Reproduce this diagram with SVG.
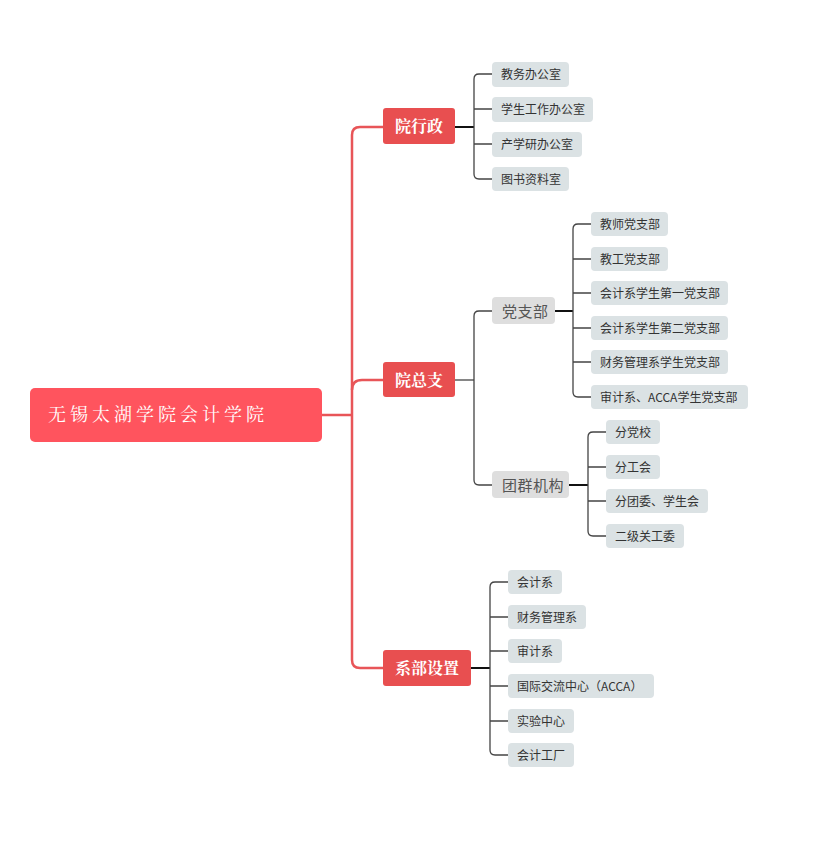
<svg xmlns="http://www.w3.org/2000/svg" width="823" height="845" viewBox="0 0 823 845">
<style>
.root{fill:#FF545E}
.l1{fill:#E84F50}
.l2{fill:#DEDEDE}
.leaf{fill:#DBE2E4}
.t-root{font-family:"Noto Serif CJK SC","Noto Sans CJK SC",serif;font-size:18px;fill:#fff;letter-spacing:4px}
.t1{font-family:"Noto Serif CJK SC","Noto Sans CJK SC",serif;font-size:16px;font-weight:bold;fill:#fff;text-anchor:middle}
.t2{font-family:"Noto Sans CJK SC",sans-serif;font-size:15px;fill:#555;letter-spacing:0.5px}
.t3{font-family:"Noto Sans CJK SC",sans-serif;font-size:12px;fill:#333}
.red{fill:none;stroke:#E85558;stroke-width:2.5}
.stem{fill:none;stroke:#111;stroke-width:2}
.br{fill:none;stroke:#444;stroke-width:1.3}
</style>
<rect width="823" height="845" fill="#fff"/>
<g id="connectors">
<path class="red" d="M322,415 H352"/>
<path class="red" d="M383,127 H360 Q352,127 352,135 V660 Q352,668 360,668 H383"/>
<path class="red" d="M352,390 Q352,380 362,380 H383"/>
<path class="stem" d="M455,127 H474"/>
<path class="br" d="M492,74 H479 Q474,74 474,79 V174 Q474,179 479,179 H492 M474,109 H492 M474,144 H492"/>
<path class="br" d="M455,380 H474"/>
<path class="br" d="M492,311 H479 Q474,311 474,316 V480 Q474,485 479,485 H492"/>
<path class="stem" d="M555,311 H573"/>
<path class="br" d="M591,224 H578 Q573,224 573,229 V392 Q573,397 578,397 H591 M573,259 H591 M573,293 H591 M573,328 H591 M573,362 H591"/>
<path class="stem" d="M569,485 H588"/>
<path class="br" d="M606,432 H593 Q588,432 588,437 V531 Q588,536 593,536 H606 M588,467 H606 M588,501 H606"/>
<path class="stem" d="M471,668 H490"/>
<path class="br" d="M508,582 H495 Q490,582 490,587 V750 Q490,755 495,755 H508 M490,617 H508 M490,651 H508 M490,686 H508 M490,721 H508"/>
</g>
<g id="root"><rect class="root" x="30" y="388" width="292" height="54" rx="5"/><text class="t-root" x="48" y="421">无锡太湖学院会计学院</text></g>
<g id="n-xingzheng"><rect class="l1" x="383" y="108" width="72" height="36" rx="3"/><text class="t1" x="419" y="132">院行政</text></g>
<g id="n-zongzhi"><rect class="l1" x="383" y="362" width="72" height="35" rx="3"/><text class="t1" x="419" y="385.5">院总支</text></g>
<g id="n-xibu"><rect class="l1" x="383" y="650" width="88" height="36" rx="3"/><text class="t1" x="427" y="674">系部设置</text></g>
<g id="n-dangzhibu"><rect class="l2" x="492" y="297" width="63" height="27" rx="4"/><text class="t2" x="502" y="316.5">党支部</text></g>
<g id="n-tuanqun"><rect class="l2" x="492" y="471" width="77" height="27" rx="4"/><text class="t2" x="502" y="490.5">团群机构</text></g>
<g id="a1"><rect class="leaf" x="492" y="62" width="77" height="25" rx="4"/><text class="t3" x="501" y="78.5">教务办公室</text></g>
<g id="a2"><rect class="leaf" x="492" y="97" width="101" height="25" rx="4"/><text class="t3" x="501" y="113.5">学生工作办公室</text></g>
<g id="a3"><rect class="leaf" x="492" y="132" width="90" height="25" rx="4"/><text class="t3" x="501" y="148.5">产学研办公室</text></g>
<g id="a4"><rect class="leaf" x="492" y="167" width="77" height="24" rx="4"/><text class="t3" x="501" y="183.5">图书资料室</text></g>
<g id="b1"><rect class="leaf" x="591" y="212" width="77" height="24" rx="4"/><text class="t3" x="600" y="228.5">教师党支部</text></g>
<g id="b2"><rect class="leaf" x="591" y="247" width="77" height="24" rx="4"/><text class="t3" x="600" y="263.5">教工党支部</text></g>
<g id="b3"><rect class="leaf" x="591" y="281" width="137" height="24" rx="4"/><text class="t3" x="600" y="297.5">会计系学生第一党支部</text></g>
<g id="b4"><rect class="leaf" x="591" y="316" width="137" height="24" rx="4"/><text class="t3" x="600" y="332.5">会计系学生第二党支部</text></g>
<g id="b5"><rect class="leaf" x="591" y="350" width="137" height="24" rx="4"/><text class="t3" x="600" y="366.5">财务管理系学生党支部</text></g>
<g id="b6"><rect class="leaf" x="591" y="385" width="157" height="24" rx="4"/><text class="t3" x="600" y="401.5">审计系、ACCA学生党支部</text></g>
<g id="c1"><rect class="leaf" x="606" y="420" width="54" height="24" rx="4"/><text class="t3" x="615" y="436.5">分党校</text></g>
<g id="c2"><rect class="leaf" x="606" y="455" width="54" height="24" rx="4"/><text class="t3" x="615" y="471.5">分工会</text></g>
<g id="c3"><rect class="leaf" x="606" y="489" width="102" height="24" rx="4"/><text class="t3" x="615" y="505.5">分团委、学生会</text></g>
<g id="c4"><rect class="leaf" x="606" y="524" width="78" height="24" rx="4"/><text class="t3" x="615" y="540.5">二级关工委</text></g>
<g id="d1"><rect class="leaf" x="508" y="570" width="54" height="24" rx="4"/><text class="t3" x="517" y="586.5">会计系</text></g>
<g id="d2"><rect class="leaf" x="508" y="605" width="78" height="24" rx="4"/><text class="t3" x="517" y="621.5">财务管理系</text></g>
<g id="d3"><rect class="leaf" x="508" y="639" width="54" height="24" rx="4"/><text class="t3" x="517" y="655.5">审计系</text></g>
<g id="d4"><rect class="leaf" x="508" y="674" width="146" height="24" rx="4"/><text class="t3" x="517" y="690.5">国际交流中心（ACCA）</text></g>
<g id="d5"><rect class="leaf" x="508" y="709" width="66" height="24" rx="4"/><text class="t3" x="517" y="725.5">实验中心</text></g>
<g id="d6"><rect class="leaf" x="508" y="743" width="66" height="24" rx="4"/><text class="t3" x="517" y="759.5">会计工厂</text></g>
</svg>
